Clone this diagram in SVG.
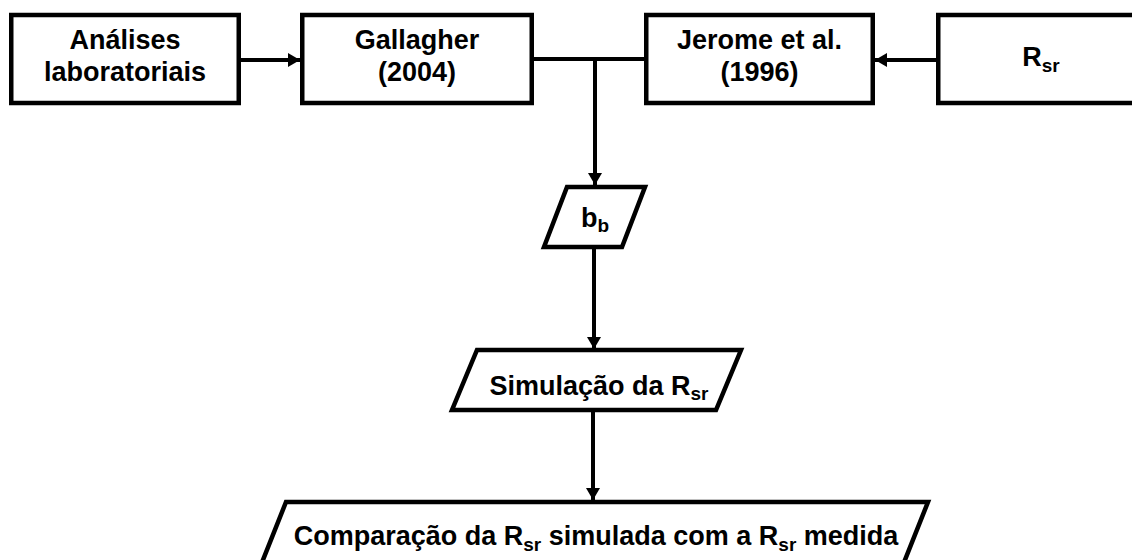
<svg xmlns="http://www.w3.org/2000/svg" width="1132" height="560" viewBox="0 0 1132 560">
<style>
.box{fill:#fff;stroke:#000;stroke-width:4.5}
.t{font-family:"Liberation Sans",Arial,sans-serif;font-weight:bold;font-size:27px;fill:#000;text-anchor:middle}
.sub{font-size:19px}
.ln{fill:none;stroke:#000;stroke-width:4}
</style>
<defs>
<marker id="ah" markerUnits="userSpaceOnUse" markerWidth="13" markerHeight="15" refX="12" refY="7" orient="auto">
<path d="M0,0 L12,7 L0,14 z" fill="#000"/>
</marker>
</defs>
<rect width="1132" height="560" fill="#fff"/>
<g id="connectors">
<line class="ln" x1="241" y1="60" x2="300" y2="60" marker-end="url(#ah)"/>
<line class="ln" x1="936" y1="60" x2="875" y2="60" marker-end="url(#ah)"/>
<line class="ln" x1="534" y1="59" x2="644" y2="59"/>
<line class="ln" x1="595" y1="59" x2="595" y2="185" marker-end="url(#ah)"/>
<line class="ln" x1="594" y1="247" x2="594" y2="349" marker-end="url(#ah)"/>
<line class="ln" x1="593" y1="410" x2="593" y2="500" marker-end="url(#ah)"/>
</g>
<g id="analises">
<rect class="box" x="11.25" y="15" width="227.5" height="88"/>
<text class="t" x="125" y="49">Análises</text>
<text class="t" x="125" y="81">laboratoriais</text>
</g>
<g id="gallagher">
<rect class="box" x="302.25" y="15" width="229.5" height="88"/>
<text class="t" x="417" y="49">Gallagher</text>
<text class="t" x="417" y="81">(2004)</text>
</g>
<g id="jerome">
<rect class="box" x="646.25" y="15" width="226.5" height="88"/>
<text class="t" x="759.5" y="49">Jerome et al.</text>
<text class="t" x="759.5" y="81">(1996)</text>
</g>
<g id="rsr">
<rect class="box" x="938.25" y="15" width="240" height="88"/>
<text class="t" x="1041" y="66">R<tspan class="sub" dy="6">sr</tspan></text>
</g>
<g id="bb">
<polygon class="box" points="567,187 645,187 622,247 544,247"/>
<text class="t" x="595" y="227">b<tspan class="sub" dy="5">b</tspan></text>
</g>
<g id="simulacao">
<polygon class="box" points="477,350 741,350 716,410 452,410"/>
<text class="t" x="599" y="395">Simulação da R<tspan class="sub" dy="5">sr</tspan></text>
</g>
<g id="comparacao">
<polygon class="box" points="286,502 928,502 899,575 257,575"/>
<text class="t" x="596" y="545">Comparação da R<tspan class="sub" dy="6">sr</tspan><tspan dy="-6"> simulada com a R</tspan><tspan class="sub" dy="6">sr</tspan><tspan dy="-6"> medida</tspan></text>
</g>
</svg>
